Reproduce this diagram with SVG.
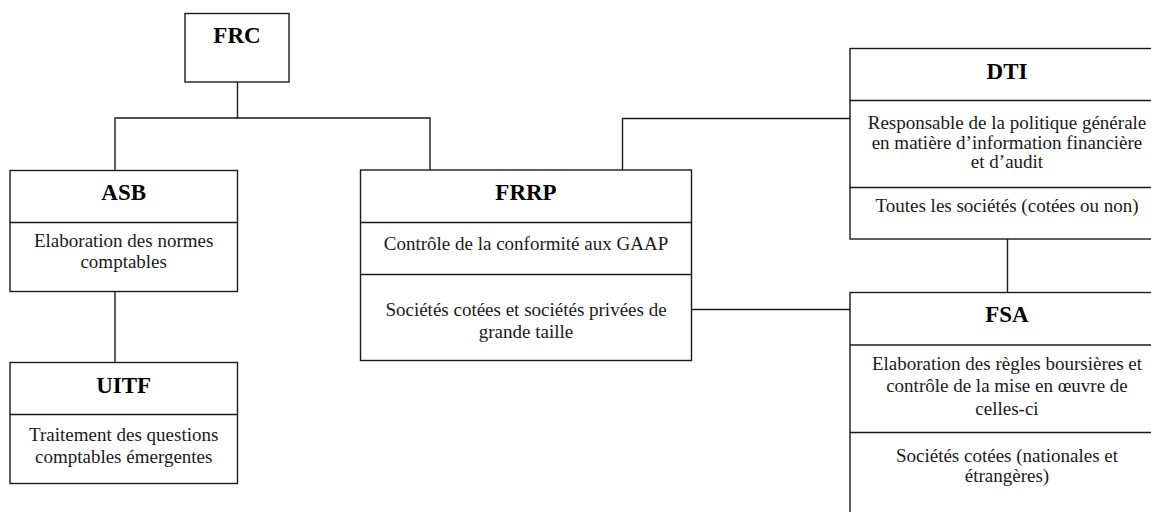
<svg xmlns="http://www.w3.org/2000/svg" width="1151" height="512" viewBox="0 0 1151 512">
<style>
.box{fill:#fff;stroke:#1a1a1a;stroke-width:1.4}
.div{stroke:#1a1a1a;stroke-width:1.4;fill:none}
.con{stroke:#1a1a1a;stroke-width:1.4;fill:none}
.h{font-family:"Liberation Serif","Times New Roman",serif;font-weight:bold;font-size:23px;text-anchor:middle;fill:#000}
.t{font-family:"Liberation Serif","Times New Roman",serif;font-size:19px;text-anchor:middle;fill:#1a1a1a}
</style>
<rect width="1151" height="512" fill="#fff"/>
<g id="connectors">
<polyline class="con" points="237.5,82 237.5,118 115,118 115,171"/>
<polyline class="con" points="237.5,118 430,118 430,170"/>
<line class="con" x1="115" y1="291.5" x2="115" y2="362"/>
<polyline class="con" points="622.5,170 622.5,118.5 850,118.5"/>
<line class="con" x1="691.5" y1="309.5" x2="850" y2="309.5"/>
<line class="con" x1="1007.5" y1="239" x2="1007.5" y2="292.5"/>
</g>
<g id="FRC">
<rect class="box" x="185" y="13.5" width="104" height="68.5"/>
<text class="h" x="237" y="43">FRC</text>
</g>
<g id="ASB">
<rect class="box" x="10" y="170.5" width="227.5" height="121"/>
<line class="div" x1="10" y1="222.5" x2="237.5" y2="222.5"/>
<text class="h" x="123.7" y="200">ASB</text>
<text class="t" x="123.7" y="247">Elaboration des normes</text>
<text class="t" x="123.7" y="268">comptables</text>
</g>
<g id="UITF">
<rect class="box" x="10" y="362.5" width="227.5" height="121"/>
<line class="div" x1="10" y1="414.5" x2="237.5" y2="414.5"/>
<text class="h" x="123.7" y="392.5">UITF</text>
<text class="t" x="123.7" y="441">Traitement des questions</text>
<text class="t" x="123.7" y="463">comptables émergentes</text>
</g>
<g id="FRRP">
<rect class="box" x="360.5" y="170" width="331" height="190.5"/>
<line class="div" x1="360.5" y1="222.5" x2="691.5" y2="222.5"/>
<line class="div" x1="360.5" y1="274.5" x2="691.5" y2="274.5"/>
<text class="h" x="526" y="200">FRRP</text>
<text class="t" x="526" y="249.5">Contrôle de la conformité aux GAAP</text>
<text class="t" x="526" y="316">Sociétés cotées et sociétés privées de</text>
<text class="t" x="526" y="337.5">grande taille</text>
</g>
<g id="DTI">
<rect class="box" x="850" y="48.5" width="320" height="190.5"/>
<line class="div" x1="850" y1="100.5" x2="1170" y2="100.5"/>
<line class="div" x1="850" y1="187.5" x2="1170" y2="187.5"/>
<text class="h" x="1007" y="78.5">DTI</text>
<text class="t" x="1007" y="128.5">Responsable de la politique générale</text>
<text class="t" x="1007" y="148.5">en matière d’information financière</text>
<text class="t" x="1007" y="168">et d’audit</text>
<text class="t" x="1007" y="212">Toutes les sociétés (cotées ou non)</text>
</g>
<g id="FSA">
<rect class="box" x="850" y="292.5" width="320" height="240"/>
<line class="div" x1="850" y1="345" x2="1170" y2="345"/>
<line class="div" x1="850" y1="432.5" x2="1170" y2="432.5"/>
<text class="h" x="1007" y="322">FSA</text>
<text class="t" x="1007" y="370">Elaboration des règles boursières et</text>
<text class="t" x="1007" y="392">contrôle de la mise en œuvre de</text>
<text class="t" x="1007" y="415">celles-ci</text>
<text class="t" x="1007" y="462">Sociétés cotées (nationales et</text>
<text class="t" x="1007" y="482">étrangères)</text>
</g>
</svg>
